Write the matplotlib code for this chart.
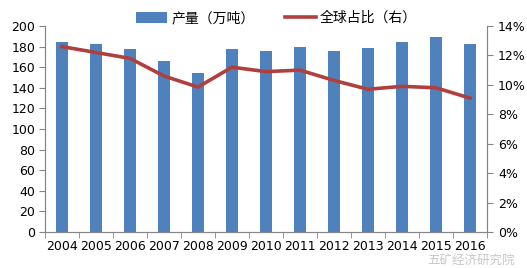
import matplotlib
matplotlib.use("Agg")
import matplotlib.pyplot as plt
from matplotlib.ticker import FuncFormatter, FixedLocator
import numpy as np

plt.rcParams['font.family'] = ['Noto Sans CJK SC', 'DejaVu Sans']

years = ['2004', '2005', '2006', '2007', '2008', '2009', '2010',
         '2011', '2012', '2013', '2014', '2015', '2016']
production = [184, 183, 178, 166, 154, 178, 175.5, 180, 175.5, 179, 184, 189, 183]
share = [0.126, 0.122, 0.118, 0.106, 0.0985, 0.112, 0.109, 0.110, 0.103,
         0.097, 0.099, 0.098, 0.091]

bar_color = '#4F81BD'
line_color = '#B0403E'
axis_color = '#868686'
tick_font = {'family': 'DejaVu Sans', 'size': 9}

fig = plt.figure(figsize=(5.27, 2.68), dpi=100)
ax = fig.add_axes([45/527, 36/268, 442/527, 206/268])
x = np.arange(len(years))
bars = ax.bar(x, production, width=0.38, color=bar_color, label='产量（万吨）', zorder=2)
ax.set_ylim(0, 200)
ax.set_xlim(-0.5, len(years) - 0.5)
ax.set_yticks(range(0, 201, 20))
ax.set_xticks(x)
ax.set_xticklabels(years, fontdict=tick_font)
for lab in ax.get_yticklabels():
    lab.set_fontfamily('DejaVu Sans')
ax.xaxis.set_minor_locator(FixedLocator(np.arange(-0.5, len(years), 1.0)))
ax.tick_params(axis='x', which='major', length=0, pad=6, labelsize=9)
ax.tick_params(axis='x', which='minor', length=4, color=axis_color, direction='out')
ax.tick_params(axis='y', length=4, color=axis_color, labelsize=9, pad=3)
ax.spines['top'].set_visible(False)
for s in ['left', 'bottom', 'right']:
    ax.spines[s].set_color(axis_color)

ax2 = ax.twinx()
line, = ax2.plot(x, share, color=line_color, lw=2.6, label='全球占比（右）', zorder=3)
ax2.set_ylim(0, 0.14)
ax2.set_yticks(np.arange(0, 0.141, 0.02))
ax2.yaxis.set_major_formatter(FuncFormatter(lambda v, p: f'{v*100:.0f}%'))
ax2.tick_params(axis='y', length=4, color=axis_color, labelsize=9, pad=4)
for lab in ax2.get_yticklabels():
    lab.set_fontfamily('DejaVu Sans')
ax2.spines['top'].set_visible(False)
for s in ['left', 'bottom', 'right']:
    ax2.spines[s].set_color(axis_color)

fig.legend(handles=[bars, line], loc='upper center', bbox_to_anchor=(0.525, 1.005),
           ncol=2, frameon=False, fontsize=10, handlelength=2.2, handleheight=0.9,
           columnspacing=2.2, handletextpad=0.3)

fig.text(0.81, 0.028, '五矿经济研究院', fontsize=9, color='#c8c8c8', ha='left', va='center')

fig.savefig('out.png', dpi=100, facecolor='white')
